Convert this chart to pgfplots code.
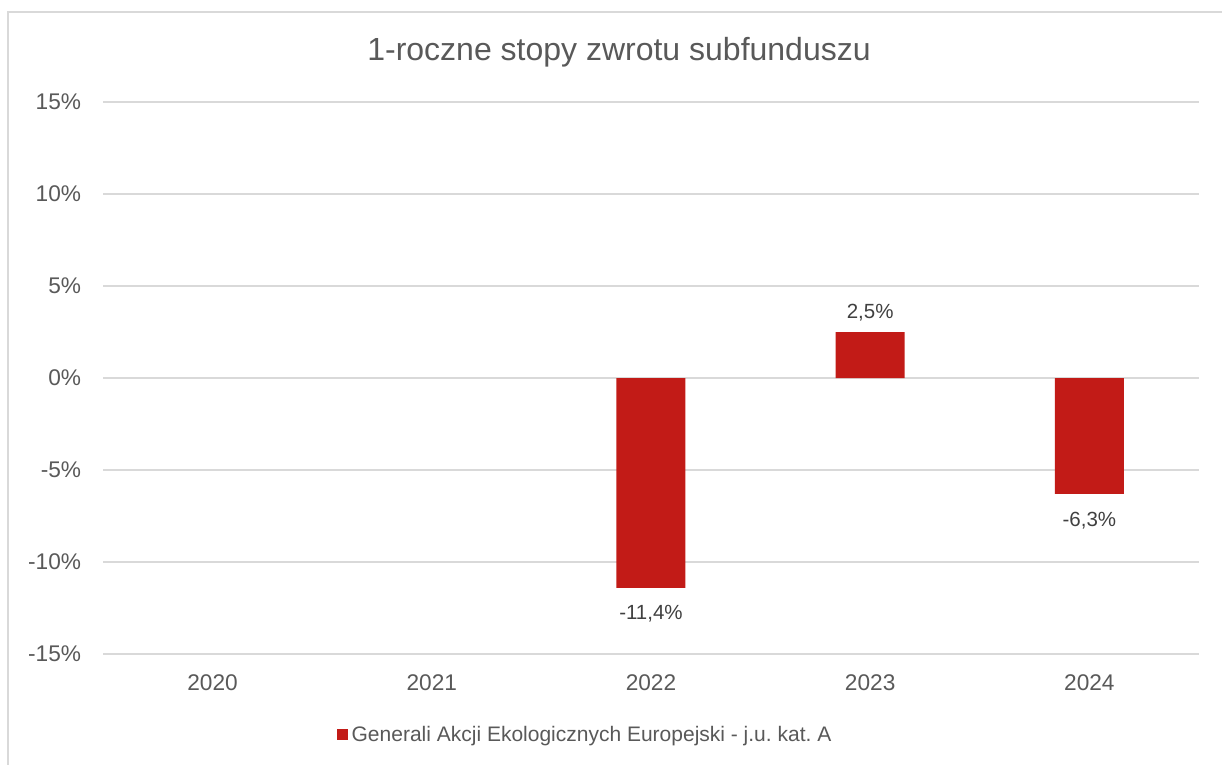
\documentclass[border=0pt]{standalone}
\usepackage{pgfplots}
\pgfplotsset{compat=1.18}
\usepackage{fontspec}
\setmainfont{Liberation Sans}
\definecolor{barred}{RGB}{194,27,23}
\definecolor{txtgray}{RGB}{89,89,89}
\definecolor{lblgray}{RGB}{64,64,64}
\definecolor{gridgray}{RGB}{217,217,217}
\begin{document}
\begin{tikzpicture}[x=0.6pt,y=0.6pt]
\path[use as bounding box] (0,0) rectangle (1222,765);
\draw[gridgray, line width=1.2pt] (8,0) -- (8,753) -- (1222,753);
\node[txtgray, font=\fontsize{19.2}{23}\selectfont] at (619,713) {1-roczne stopy zwrotu subfunduszu};
\begin{axis}[
  at={(61.8pt,66.6pt)}, anchor=south west,
  scale only axis, width=657.6pt, height=331.2pt,
  ymin=-15, ymax=15, ytick={-15,-10,...,15},
  yticklabel={\pgfmathprintnumber{\tick}\%},
  yticklabel style={txtgray, font=\fontsize{13.6}{16}\selectfont, xshift=-9.6pt},
  xmin=-0.5, xmax=4.5, xtick={0,1,2,3,4},
  xticklabels={2020,2021,2022,2023,2024},
  xticklabel style={txtgray, font=\fontsize{13.6}{16}\selectfont, yshift=-9pt},
  /pgf/number format/assume math mode=true,
  axis line style={draw=none}, major tick length=0pt,
  ymajorgrids, grid style={gridgray, line width=0.9pt},
  ybar, bar width=41.4pt, bar shift=0pt,
  nodes near coords={\pgfmathprintnumber[fixed,fixed zerofill,precision=1,use comma]{\pgfplotspointmeta}\%},
  nodes near coords style={lblgray, font=\fontsize{12.3}{15}\selectfont, inner sep=8.5pt, yshift=-2pt},
  legend style={draw=none, at={(0.2135,-0.1467)}, anchor=west, font=\fontsize{12.6}{15}\selectfont, text=txtgray, inner sep=0pt, legend cell align=left},
  legend image code/.code={\fill[barred] (0pt,-3.3pt) rectangle (6.6pt,3.3pt);},
]
\addplot[fill=barred, draw=none] coordinates {(2,-11.4) (3,2.5) (4,-6.3)};
\addlegendentry{Generali Akcji Ekologicznych Europejski - j.u.~kat.~A}
\end{axis}
\end{tikzpicture}
\end{document}
